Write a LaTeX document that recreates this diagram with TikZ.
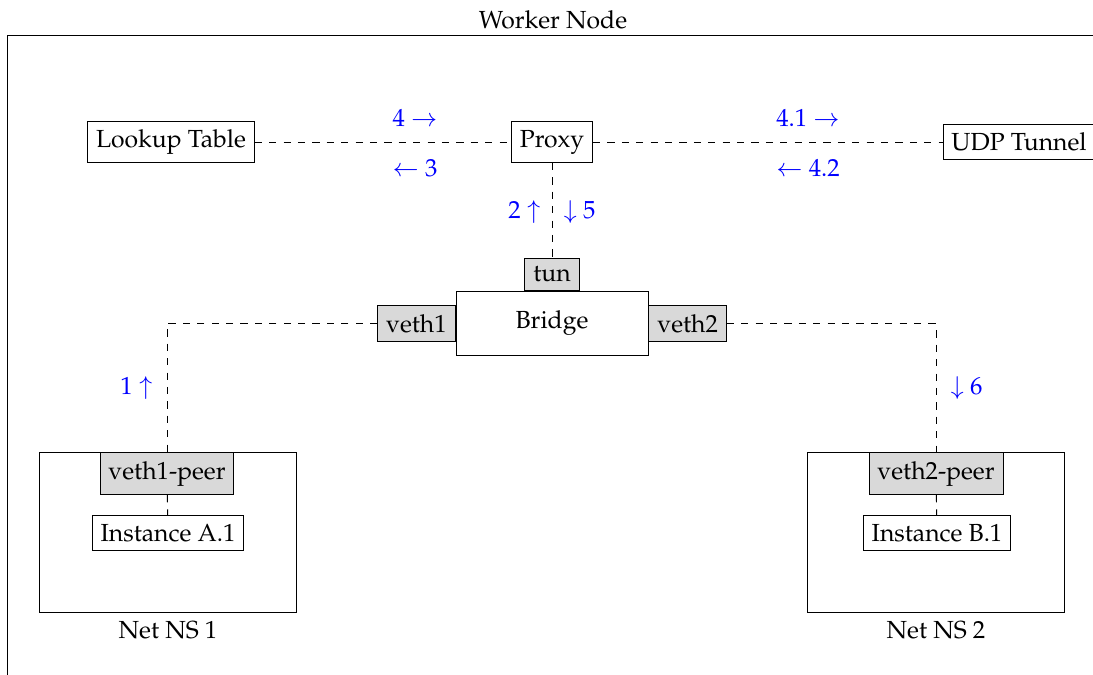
\documentclass[tikz,border=0pt]{standalone}
\usepackage[T1]{fontenc}
\usepackage{mathpazo}
\begin{document}
\begin{tikzpicture}[x=0.41667pt, y=-0.41667pt,
  every node/.style={font=\fontsize{10.3pt}{12.4pt}\selectfont},
  every label/.style={font=\fontsize{10.3pt}{12.4pt}\selectfont},
  box/.style={draw, fill=white, inner sep=3.5pt},
  iface/.style={draw, fill=gray!30, inner sep=3.5pt},
  conn/.style={dashed, thin},
  flow/.style={text=blue}]
\useasboundingbox (0,0) rectangle (1093,675);
\clip (0,0) rectangle (1093,675);

% outer frame of the worker node
\node[draw, minimum width=454.2pt, minimum height=279pt, inner sep=0pt,
      label={[inner sep=2pt]above:Worker Node}] (worker) at (553,370) {};

% top row
\node[box] (lookup) at (171,142) {Lookup Table};
\node[box] (proxy)  at (552,142) {Proxy};
\node[box] (udp)    at (1019,142) {UDP Tunnel};

% bridge and its interfaces
\node[box, minimum width=80pt, minimum height=27pt] (bridge) at (552,323.5) {Bridge};
\node[iface, anchor=south] (tun) at (bridge.north) {tun};
\node[iface, anchor=east] (veth1) at (bridge.west) {veth1};
\node[iface, anchor=west] (veth2) at (bridge.east) {veth2};

% network namespaces
\node[draw, minimum width=106.7pt, minimum height=66.3pt, inner sep=0pt,
      label={below:Net NS 1}] (ns1) at (168,532.5) {};
\node[draw, minimum width=106.7pt, minimum height=66.3pt, inner sep=0pt,
      label={below:Net NS 2}] (ns2) at (936,532.5) {};
\node[iface, anchor=north] (peer1) at (ns1.north -| 167,0) {veth1-peer};
\node[iface, anchor=north] (peer2) at (ns2.north -| 936,0) {veth2-peer};
\node[box] (instA) at (168,533) {Instance A.1};
\node[box] (instB) at (937,533) {Instance B.1};

% connections
\draw[conn] (lookup) -- (proxy);
\draw[conn] (proxy) -- (udp);
\draw[conn] (proxy) -- (tun);
\draw[conn] (veth1.west) -| (peer1.north);
\draw[conn] (veth2.east) -| (peer2.north);
\draw[conn] (peer1) -- (instA);
\draw[conn] (peer2) -- (instB);

% packet flow steps
\node[flow] (s4)  at (415,118) {4 $\rightarrow$};
\node[flow] (s3)  at (415,168) {$\leftarrow$ 3};
\node[flow] (s41) at (808,118) {4.1 $\rightarrow$};
\node[flow] (s42) at (808,168) {$\leftarrow$ 4.2};
\node[flow, anchor=east] (s2) at (549,212) {2 $\uparrow$};
\node[flow, anchor=west] (s5) at (555,212) {$\downarrow$ 5};
\node[flow, anchor=east] (s1) at (161,388) {1 $\uparrow$};
\node[flow, anchor=west] (s6) at (942,388) {$\downarrow$ 6};
\end{tikzpicture}
\end{document}
